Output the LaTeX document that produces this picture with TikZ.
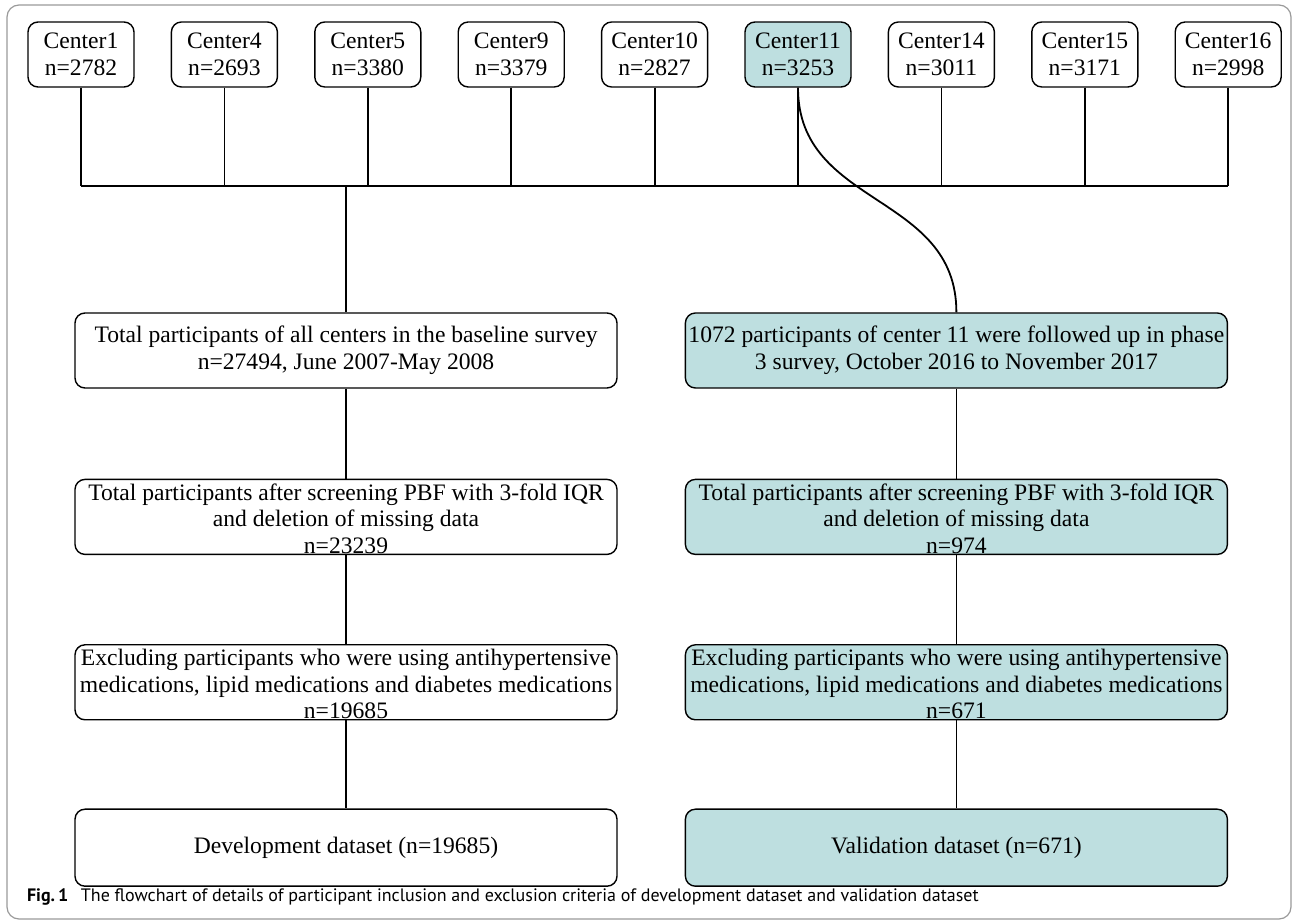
\documentclass[tikz,border=0pt]{standalone}
\usepackage{fontspec}
\setmainfont{Liberation Serif}
\newfontfamily\capfont{PT Sans}
\usepackage{tikz}
\usetikzlibrary{positioning}
\definecolor{valid}{HTML}{BEDFE0}
\definecolor{framegray}{HTML}{9A9A9A}

\begin{document}
\begin{tikzpicture}[
  x=0.5pt,y=-0.5pt,
  font=\fontsize{11.8}{13.3}\selectfont,
  ctr/.style={draw,rounded corners=5pt,line width=0.7pt,minimum width=53pt,minimum height=32.5pt,inner sep=0pt,align=center},
  flow/.style={draw,rounded corners=5pt,line width=0.7pt,minimum width=271pt,minimum height=37.5pt,inner sep=0pt,align=center},
  over/.style={text height=37pt,text depth=0.5pt},
  val/.style={fill=valid},
  ln/.style={line width=0.9pt}
]
\useasboundingbox (0,0) rectangle (1292,924);
\draw[framegray,line width=0.6pt,rounded corners=6pt] (7,5) rectangle (1291,919);
% centers
\node[ctr] (c1) at (81,54.5) {Center1\\n=2782};
\node[ctr,right=18pt of c1] (c4) {Center4\\n=2693};
\node[ctr,right=18pt of c4] (c5) {Center5\\n=3380};
\node[ctr,right=18pt of c5] (c9) {Center9\\n=3379};
\node[ctr,right=18pt of c9] (c10) {Center10\\n=2827};
\node[ctr,val,right=18pt of c10] (c11) {Center11\\n=3253};
\node[ctr,right=18pt of c11] (c14) {Center14\\n=3011};
\node[ctr,right=18pt of c14] (c15) {Center15\\n=3171};
\node[ctr,right=18pt of c15] (c16) {Center16\\n=2998};
\coordinate (bus) at (0,186);
% development column
\node[flow] (tot) at (346,350.5) {Total participants of all centers in the baseline survey\\n=27494, June 2007-May 2008};
\node[flow,over,below=45pt of tot] (scr) {Total participants after screening PBF with 3-fold IQR\\and deletion of missing data\\n=23239};
\node[flow,over,below=44.5pt of scr] (exc) {Excluding participants who were using antihypertensive\\medications, lipid medications and diabetes medications\\n=19685};
\node[flow,minimum height=38.5pt,below=44pt of exc] (dev) {Development dataset (n=19685)};
% validation column
\node[flow,val,right=33.5pt of tot] (fol) {1072 participants of center 11 were followed up in phase\\3 survey, October 2016 to November 2017};
\node[flow,val,over,below=45pt of fol] (vscr) {Total participants after screening PBF with 3-fold IQR\\and deletion of missing data\\n=974};
\node[flow,val,over,below=44.5pt of vscr] (vexc) {Excluding participants who were using antihypertensive\\medications, lipid medications and diabetes medications\\n=671};
\node[flow,val,minimum height=38.5pt,below=44pt of vexc] (vds) {Validation dataset (n=671)};
\node[anchor=west,font=\capfont\fontsize{9}{10}\selectfont] (cap) at (20,897) {\textbf{Fig.\,1}\hspace{0.7em}The flowchart of details of participant inclusion and exclusion criteria of development dataset and validation dataset};
% connectors
\draw[ln] (c1.south) -- (c1.south |- bus);
\draw[ln] (c4.south) -- (c4.south |- bus);
\draw[ln] (c5.south) -- (c5.south |- bus);
\draw[ln] (c9.south) -- (c9.south |- bus);
\draw[ln] (c10.south) -- (c10.south |- bus);
\draw[ln] (c11.south) -- (c11.south |- bus);
\draw[ln] (c14.south) -- (c14.south |- bus);
\draw[ln] (c15.south) -- (c15.south |- bus);
\draw[ln] (c16.south) -- (c16.south |- bus);
\draw[ln] (c1.south |- bus) -- (c16.south |- bus);
\draw[ln] (tot.north |- bus) -- (tot.north);
\draw[ln] (c11.south) .. controls +(0,120) and +(0,-120) .. (fol.north);
\draw[ln] (tot) -- (scr);
\draw[ln] (scr) -- (exc);
\draw[ln] (exc) -- (dev);
\draw[ln] (fol) -- (vscr);
\draw[ln] (vscr) -- (vexc);
\draw[ln] (vexc) -- (vds);
\end{tikzpicture}
\end{document}
